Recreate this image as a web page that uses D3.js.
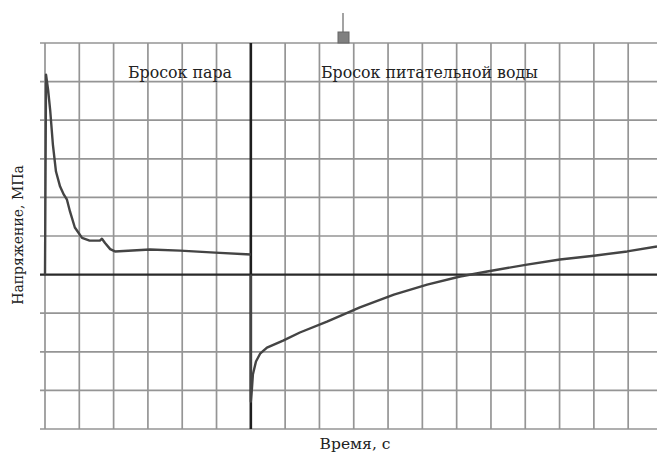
<!DOCTYPE html>
<html><head><meta charset="utf-8">
<script src="https://cdn.jsdelivr.net/npm/d3@7"></script>
<style>html,body{margin:0;padding:0;background:#fff;}svg{display:block;}</style>
</head><body>
<svg id="c" width="657" height="455"></svg>
<script>
// Data (grid units: x in grid cells of time, y in grid cells of stress)
const xGridTicks = d3.range(0, 18);
const yGridTicks = d3.range(-4, 7);
const dividerX = 6;
const steamX = [0, 0.03, 0.09, 0.15, 0.23, 0.32, 0.44, 0.55, 0.64, 0.73, 0.87, 1.08, 1.30, 1.60, 1.66, 1.75, 1.90, 2.04, 3.06, 3.94, 4.96, 6.0];
const steamY = [0, 5.18, 4.79, 4.27, 3.37, 2.67, 2.28, 2.07, 1.94, 1.63, 1.22, 0.95, 0.88, 0.88, 0.93, 0.82, 0.66, 0.60, 0.65, 0.62, 0.57, 0.52];
const waterX = [6.0, 6.0, 6.03, 6.06, 6.15, 6.27, 6.47, 6.94, 7.43, 8.22, 9.18, 10.17, 11.14, 12.10, 12.89, 14.05, 15.01, 16.0, 16.97, 17.84];
const waterY = [0, -3.29, -2.98, -2.59, -2.25, -2.05, -1.89, -1.71, -1.50, -1.22, -0.85, -0.52, -0.26, -0.05, 0.08, 0.26, 0.39, 0.49, 0.60, 0.73];
const labels = {steam: "Бросок пара", water: "Бросок питательной воды", y: "Напряжение, МПа", x: "Время, с"};

const svg = d3.select("#c");
const x = d3.scaleLinear().domain([0, 17.84]).range([45, 657]);
const y = d3.scaleLinear().domain([-4, 6]).range([429, 43]);

const gridColor = "#959595";
// vertical grid
svg.append("g").selectAll("line").data(xGridTicks).join("line")
  .attr("x1", d => x(d)).attr("x2", d => x(d))
  .attr("y1", y(6)).attr("y2", y(-4))
  .attr("stroke", gridColor).attr("stroke-width", 1.7);
// horizontal grid
svg.append("g").selectAll("line").data(yGridTicks.filter(d => d !== 0)).join("line")
  .attr("x1", x(0) - 5).attr("x2", 657)
  .attr("y1", d => y(d)).attr("y2", d => y(d))
  .attr("stroke", gridColor).attr("stroke-width", 1.7);
// zero line
svg.append("line").attr("x1", x(0) - 5).attr("x2", 657).attr("y1", y(0)).attr("y2", y(0))
  .attr("stroke", "#2a2a2a").attr("stroke-width", 2.4);
// divider
svg.append("line").attr("x1", x(dividerX)).attr("x2", x(dividerX)).attr("y1", y(6)).attr("y2", y(-4))
  .attr("stroke", "#1e1e1e").attr("stroke-width", 2.6);

const line = d3.line().x(d => x(d[0])).y(d => y(d[1]));
svg.append("path").datum(d3.zip(steamX, steamY)).attr("d", line)
  .attr("fill", "none").attr("stroke", "#444").attr("stroke-width", 2.4).attr("stroke-linejoin", "round");
svg.append("path").datum(d3.zip(waterX, waterY)).attr("d", line)
  .attr("fill", "none").attr("stroke", "#444").attr("stroke-width", 2.4).attr("stroke-linejoin", "round");

// marker at top
svg.append("line").attr("x1", 343).attr("x2", 343).attr("y1", 13).attr("y2", 33).attr("stroke", "#666").attr("stroke-width", 1.2);
svg.append("rect").attr("x", 338).attr("y", 32).attr("width", 11).attr("height", 11).attr("fill", "#808080").attr("stroke", "#666");

const font = "DejaVu Serif, Liberation Serif, serif";
svg.append("text").attr("x", 128).attr("y", 78).attr("font-family", font).attr("font-size", 15.8).attr("fill", "#222").text(labels.steam);
svg.append("text").attr("x", 321).attr("y", 78).attr("font-family", font).attr("font-size", 15.8).attr("fill", "#222").text(labels.water);
svg.append("text").attr("transform", "translate(23,235) rotate(-90)").attr("text-anchor", "middle")
  .attr("font-family", font).attr("font-size", 14).attr("fill", "#222").text(labels.y);
svg.append("text").attr("x", 355).attr("y", 449).attr("text-anchor", "middle")
  .attr("font-family", font).attr("font-size", 15.5).attr("fill", "#222").text(labels.x);
</script>
</body></html>
